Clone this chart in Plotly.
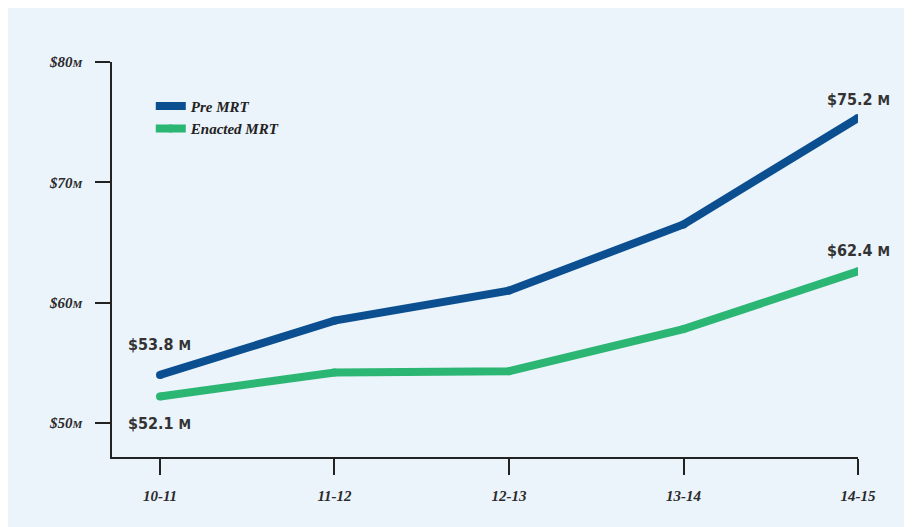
import plotly.graph_objects as go

years = ["10-11", "11-12", "12-13", "13-14", "14-15"]
pre_mrt = [53.99, 58.5, 61.0, 66.5, 75.35]
enacted_mrt = [52.2, 54.2, 54.3, 57.8, 62.6]
y_ticks = [50, 60, 70, 80]
y_tick_text = ["$50<span style='font-size:11px'>M</span>", "$60<span style='font-size:11px'>M</span>",
               "$70<span style='font-size:11px'>M</span>", "$80<span style='font-size:11px'>M</span>"]
labels = [("$53.8 M", 0, pre_mrt[0], 30), ("$52.1 M", 0, enacted_mrt[0], -27),
          ("$75.2 M", 4, pre_mrt[4], 18), ("$62.4 M", 4, enacted_mrt[4], 21)]

BLUE = "#0b4f91"
GREEN = "#2bb673"
BG = "#ebf3fb"
serif = dict(family="Liberation Serif, DejaVu Serif, serif", size=15, color="#2a2a2a",
             style="italic", weight="bold")

xs = list(range(len(years)))
fig = go.Figure()
fig.add_trace(go.Scatter(x=xs, y=pre_mrt, name="Pre MRT", mode="lines+markers",
                         line=dict(color=BLUE, width=8), marker=dict(color=BLUE, size=8)))
fig.add_trace(go.Scatter(x=xs, y=enacted_mrt, name="Enacted MRT", mode="lines+markers",
                         line=dict(color=GREEN, width=8), marker=dict(color=GREEN, size=8)))

for text, xi, yv, shift in labels:
    fig.add_annotation(x=xi, y=yv, text=text.replace(" M", " <span style='font-size:14px'>M</span>"),
                       showarrow=False, yshift=shift,
                       font=dict(family="DejaVu Sans Condensed, Liberation Sans Narrow, sans-serif",
                                 size=16, color="#333333", weight="bold"))

fig.add_shape(type="rect", xref="paper", yref="paper", x0=-0.1434, x1=1.08, y0=-0.2, y1=1.1367,
              fillcolor=BG, line=dict(width=0), layer="below")

fig.update_layout(
    width=904, height=519,
    margin=dict(l=104, r=54, t=54, b=70),
    paper_bgcolor="white", plot_bgcolor="rgba(0,0,0,0)",
    showlegend=True,
    legend=dict(x=0.052, y=0.93, xanchor="left", yanchor="top", bgcolor="rgba(0,0,0,0)",
                font=dict(family="Liberation Serif, DejaVu Serif, serif", size=15, color="#222",
                          style="italic", weight="bold"),
                tracegroupgap=0, itemwidth=30),
    xaxis=dict(range=[-0.275, 4], tickvals=xs, ticktext=years, showgrid=False, zeroline=False,
               showline=True, linecolor="#222", linewidth=1.5, ticks="outside", ticklen=16,
               tickwidth=1.5, tickcolor="#222", ticklabelstandoff=8, tickfont=serif),
    yaxis=dict(range=[47.17, 80], tickvals=y_ticks, ticktext=y_tick_text, showgrid=False,
               zeroline=False, showline=True, linecolor="#222", linewidth=1.5, ticks="outside",
               ticklen=15, tickwidth=1.5, tickcolor="#222", ticklabelstandoff=10, tickfont=serif),
)

fig.write_html("out.html")
